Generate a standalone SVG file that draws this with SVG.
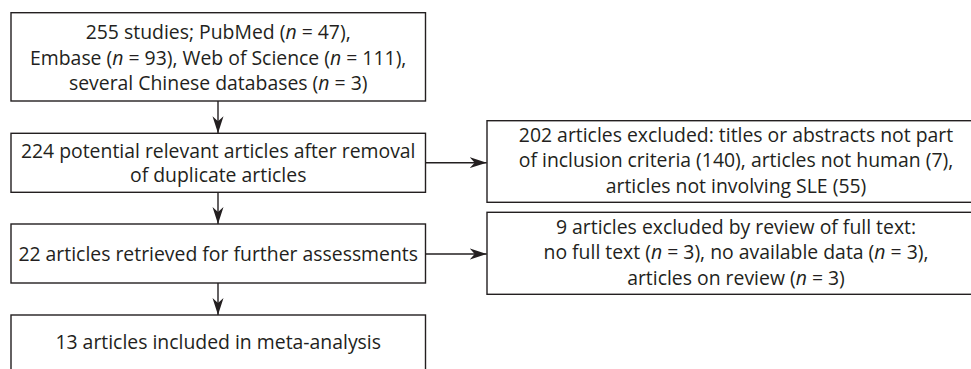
<svg xmlns="http://www.w3.org/2000/svg" width="971" height="369" viewBox="0 0 971 369">
<style>
.box{fill:#fff;stroke:#231f20;stroke-width:1.4}
.t{font-family:"Open Sans","Noto Sans","Liberation Sans",sans-serif;font-size:19.4px;fill:#231f20;text-anchor:middle}
.i{font-style:italic}
.c{stroke:#231f20;stroke-width:1.4;fill:none;marker-end:url(#ah)}
</style>
<defs>
<marker id="ah" markerUnits="userSpaceOnUse" markerWidth="18" markerHeight="12" refX="17" refY="6" orient="auto">
<path d="M0,0.5 L17,6 L0,11.5 L5,6 Z" fill="#231f20"/>
</marker>
</defs>
<rect width="971" height="369" fill="#fff"/>
<g id="connectors">
<line class="c" x1="218" y1="101" x2="218" y2="133.3"/>
<line class="c" x1="218" y1="192.3" x2="218" y2="224"/>
<line class="c" x1="218" y1="283" x2="218" y2="315"/>
<line class="c" x1="425.5" y1="162.7" x2="486.7" y2="162.7"/>
<line class="c" x1="425.5" y1="254" x2="486.7" y2="254"/>
</g>
<g id="n1">
<rect class="box" x="11" y="12.7" width="414.5" height="88.3"/>
<text class="t" x="218.2" y="39">255 studies; PubMed (<tspan class="i">n</tspan> = 47),</text>
<text class="t" x="218.2" y="64.5">Embase (<tspan class="i">n</tspan> = 93), Web of Science (<tspan class="i">n</tspan> = 111),</text>
<text class="t" x="218.2" y="90">several Chinese databases (<tspan class="i">n</tspan> = 3)</text>
</g>
<g id="n2">
<rect class="box" x="11" y="133.3" width="414.5" height="59"/>
<text class="t" x="218.2" y="157.5">224 potential relevant articles after removal</text>
<text class="t" x="218.2" y="182">of duplicate articles</text>
</g>
<g id="n3">
<rect class="box" x="11" y="224" width="414.5" height="59"/>
<text class="t" x="218.2" y="261">22 articles retrieved for further assessments</text>
</g>
<g id="n4">
<rect class="box" x="11" y="315" width="414.5" height="70"/>
<text class="t" x="218.2" y="349">13 articles included in meta-analysis</text>
</g>
<g id="n5">
<rect class="box" x="487" y="120.7" width="498" height="81.6"/>
<text class="t" x="736" y="141.5">202 articles excluded: titles or abstracts not part</text>
<text class="t" x="736" y="167">of inclusion criteria (140), articles not human (7),</text>
<text class="t" x="736" y="192.5">articles not involving SLE (55)</text>
</g>
<g id="n6">
<rect class="box" x="487" y="212.3" width="498" height="82"/>
<text class="t" x="736" y="233.5">9 articles excluded by review of full text:</text>
<text class="t" x="736" y="259">no full text (<tspan class="i">n</tspan> = 3), no available data (<tspan class="i">n</tspan> = 3),</text>
<text class="t" x="736" y="284.5">articles on review (<tspan class="i">n</tspan> = 3)</text>
</g>
</svg>
